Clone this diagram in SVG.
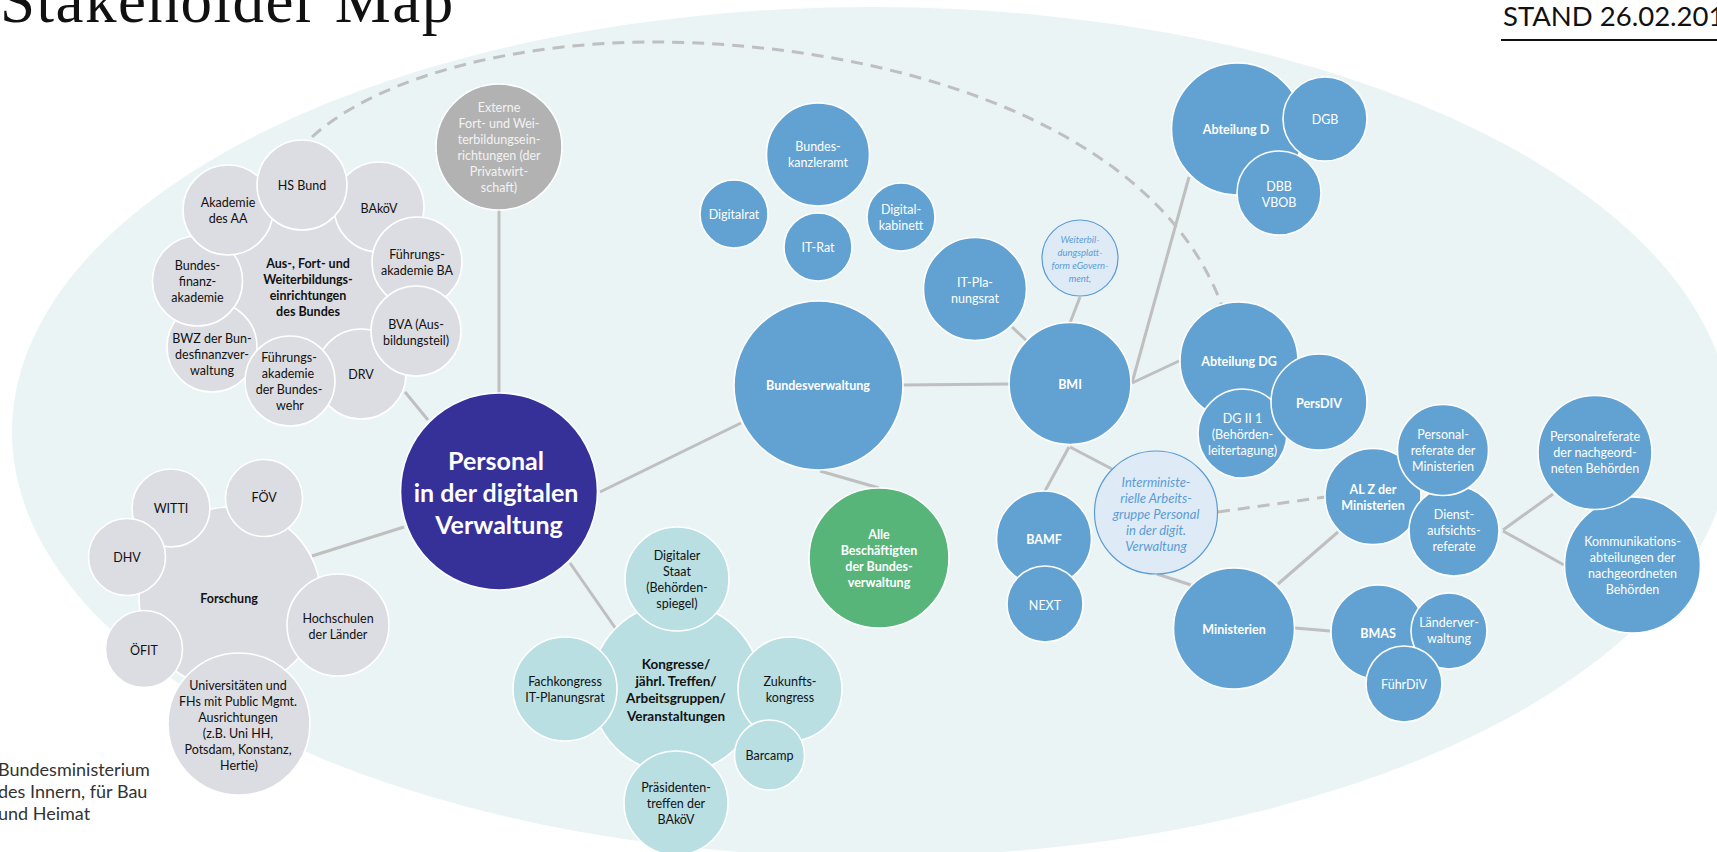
<svg xmlns="http://www.w3.org/2000/svg" width="1717" height="852" viewBox="0 0 1717 852">
<style>
text{font-family:"Lato","Carlito","Open Sans",sans-serif;font-size:12.5px;text-anchor:middle}
.n circle{stroke:#fff;stroke-width:1.6}
.blue circle{fill:#61a2d3}.blue text{fill:#fff}
.gray circle{fill:#dcdde2}.gray text{fill:#111}
.teal circle{fill:#b9dfe3}.teal text{fill:#111}
.light circle{fill:#deebf6;stroke:#5b9bd5;stroke-width:1.2}.light text{fill:#5b9bd5;font-style:italic}
.b{font-weight:700}
#connectors line,#connectors path{stroke:#bfbfbf;stroke-width:3;fill:none}
#connectors .d{stroke-dasharray:12 8}
</style>
<rect width="1717" height="852" fill="#fff"/>
<ellipse id="background" cx="872" cy="432" rx="860" ry="425" fill="#eaf4f5"/>
<text x="0" y="22" style="font-family:'Liberation Serif',serif;font-size:63px;text-anchor:start;letter-spacing:1.5px" fill="#111">Stakeholder Map</text>
<text x="1503" y="26" style="font-size:27.5px;text-anchor:start" fill="#111">STAND 26.02.201</text>
<line x1="1501" y1="40" x2="1717" y2="40" stroke="#111" stroke-width="2"/>
<g id="logo" fill="#333"><text x="-2" y="776" style="font-size:18px;text-anchor:start" fill="#333">Bundesministerium</text><text x="-2" y="798" style="font-size:18px;text-anchor:start" fill="#333">des Innern, für Bau</text><text x="-2" y="820" style="font-size:18px;text-anchor:start" fill="#333">und Heimat</text></g>
<g id="connectors">
<path class="d" d="M312,137C380,75 520,42 653,42C860,42 1150,110 1222,306"/>
<line x1="499" y1="210" x2="499" y2="393"/>
<line x1="405" y1="392" x2="428" y2="420"/>
<line x1="312" y1="556" x2="404" y2="527"/>
<line x1="570" y1="563" x2="616" y2="629"/>
<line x1="600" y1="492" x2="741" y2="423"/>
<line x1="820" y1="471" x2="879" y2="488"/>
<line x1="903" y1="385" x2="1009" y2="384"/>
<line x1="1012" y1="327" x2="1027" y2="341"/>
<line x1="1080" y1="297" x2="1070" y2="323"/>
<line x1="1132" y1="383" x2="1189" y2="177"/>
<line x1="1132" y1="383" x2="1179" y2="361"/>
<line x1="1069" y1="447" x2="1045" y2="491"/>
<line x1="1070" y1="447" x2="1112" y2="469"/>
<line x1="1157" y1="574" x2="1191" y2="585"/>
<line class="d" x1="1218" y1="512" x2="1325" y2="497"/>
<line x1="1278" y1="584" x2="1338" y2="532"/>
<line x1="1295" y1="628" x2="1330" y2="631"/>
<line x1="1503" y1="530" x2="1553" y2="494"/>
<line x1="1503" y1="531" x2="1564" y2="565"/>
</g>
<g id="personal" class="n"><circle cx="499" cy="491.5" r="98.5" fill="#353199"/><text style="font-size:25px;font-weight:700" fill="#fff"><tspan x="496" y="470">Personal</tspan><tspan x="496" y="502">in der digitalen</tspan><tspan x="499" y="534">Verwaltung</tspan></text></g>
<g id="externe" class="n"><circle cx="499" cy="147" r="63" fill="#b2b2b2"/><text fill="#f2f2f2"><tspan x="499" y="112">Externe</tspan><tspan x="499" y="128">Fort- und Wei-</tspan><tspan x="499" y="144">terbildungsein-</tspan><tspan x="499" y="160">richtungen (der</tspan><tspan x="499" y="176">Privatwirt-</tspan><tspan x="499" y="192">schaft)</tspan></text></g>
<g id="ausbildung" class="n gray"><circle cx="308" cy="288" r="100"/><text class="b"><tspan x="308" y="268">Aus-, Fort- und</tspan><tspan x="308" y="284">Weiterbildungs-</tspan><tspan x="308" y="300">einrichtungen</tspan><tspan x="308" y="316">des Bundes</tspan></text></g>
<g id="bwz" class="n gray"><circle cx="212" cy="347" r="45"/><text><tspan x="212" y="343">BWZ der Bun-</tspan><tspan x="212" y="359">desfinanzver-</tspan><tspan x="212" y="375">waltung</tspan></text></g>
<g id="finanzakademie" class="n gray"><circle cx="197.5" cy="281" r="45"/><text><tspan x="197.5" y="270">Bundes-</tspan><tspan x="197.5" y="286">finanz-</tspan><tspan x="197.5" y="302">akademie</tspan></text></g>
<g id="akademie-aa" class="n gray"><circle cx="228" cy="210" r="45"/><text><tspan x="228" y="207">Akademie</tspan><tspan x="228" y="223">des AA</tspan></text></g>
<g id="bakoev" class="n gray"><circle cx="379" cy="207" r="45"/><text><tspan x="379" y="213">BAköV</tspan></text></g>
<g id="hsbund" class="n gray"><circle cx="302" cy="185" r="45"/><text><tspan x="302" y="190">HS Bund</tspan></text></g>
<g id="fuehrung-ba" class="n gray"><circle cx="417" cy="262" r="45"/><text><tspan x="417" y="259">Führungs-</tspan><tspan x="417" y="275">akademie BA</tspan></text></g>
<g id="drv" class="n gray"><circle cx="361" cy="374" r="45"/><text><tspan x="361" y="379">DRV</tspan></text></g>
<g id="bva" class="n gray"><circle cx="416" cy="331" r="45"/><text><tspan x="416" y="329">BVA (Aus-</tspan><tspan x="416" y="345">bildungsteil)</tspan></text></g>
<g id="fuehrung-bw" class="n gray"><circle cx="290" cy="381" r="45"/><text><tspan x="289" y="362">Führungs-</tspan><tspan x="288" y="378">akademie</tspan><tspan x="289" y="394">der Bundes-</tspan><tspan x="290" y="410">wehr</tspan></text></g>
<g id="forschung" class="n gray"><circle cx="230" cy="598" r="91"/><text class="b"><tspan x="229" y="603">Forschung</tspan></text></g>
<g id="witti" class="n gray"><circle cx="171" cy="508" r="39"/><text><tspan x="171" y="513">WITTI</tspan></text></g>
<g id="dhv" class="n gray"><circle cx="127" cy="557" r="38.5"/><text><tspan x="127" y="562">DHV</tspan></text></g>
<g id="foev" class="n gray"><circle cx="264" cy="498" r="38.5"/><text><tspan x="264" y="502">FÖV</tspan></text></g>
<g id="hochschulen" class="n gray"><circle cx="338" cy="625" r="51"/><text><tspan x="338" y="623">Hochschulen</tspan><tspan x="338" y="639">der Länder</tspan></text></g>
<g id="oefit" class="n gray"><circle cx="144" cy="649" r="38.5"/><text><tspan x="144" y="655">ÖFIT</tspan></text></g>
<g id="universitaeten" class="n gray"><circle cx="239" cy="724" r="71"/><text><tspan x="238" y="690">Universitäten und</tspan><tspan x="238" y="706">FHs mit Public Mgmt.</tspan><tspan x="238" y="722">Ausrichtungen</tspan><tspan x="238" y="738">(z.B. Uni HH,</tspan><tspan x="238" y="754">Potsdam, Konstanz,</tspan><tspan x="239" y="770">Hertie)</tspan></text></g>
<g id="kongresse" class="n teal"><circle cx="676" cy="688" r="85"/><text class="b" style="font-size:13.5px"><tspan x="676" y="669">Kongresse/</tspan><tspan x="676" y="686">jährl. Treffen/</tspan><tspan x="676" y="703">Arbeitsgruppen/</tspan><tspan x="676" y="721">Veranstaltungen</tspan></text></g>
<g id="digitaler-staat" class="n teal"><circle cx="677" cy="579" r="52"/><text><tspan x="677" y="560">Digitaler</tspan><tspan x="677" y="576">Staat</tspan><tspan x="677" y="592">(Behörden-</tspan><tspan x="677" y="608">spiegel)</tspan></text></g>
<g id="fachkongress" class="n teal"><circle cx="565" cy="689" r="52"/><text><tspan x="565" y="686">Fachkongress</tspan><tspan x="565" y="702">IT-Planungsrat</tspan></text></g>
<g id="zukunft" class="n teal"><circle cx="790" cy="689" r="52"/><text><tspan x="790" y="686">Zukunfts-</tspan><tspan x="790" y="702">kongress</tspan></text></g>
<g id="barcamp" class="n teal"><circle cx="769.5" cy="755" r="35"/><text><tspan x="769.5" y="760">Barcamp</tspan></text></g>
<g id="praesidenten" class="n teal"><circle cx="676" cy="803" r="52"/><text><tspan x="676" y="792">Präsidenten-</tspan><tspan x="676" y="808">treffen der</tspan><tspan x="676" y="824">BAköV</tspan></text></g>
<g id="bundesverwaltung" class="n blue"><circle cx="818.5" cy="385.5" r="84.5"/><text class="b"><tspan x="818" y="390">Bundesverwaltung</tspan></text></g>
<g id="kanzleramt" class="n blue"><circle cx="818" cy="154.5" r="51.5"/><text><tspan x="818" y="151">Bundes-</tspan><tspan x="818" y="167">kanzleramt</tspan></text></g>
<g id="digitalrat" class="n blue"><circle cx="734" cy="214" r="34"/><text><tspan x="734" y="219">Digitalrat</tspan></text></g>
<g id="itrat" class="n blue"><circle cx="818" cy="247" r="34"/><text><tspan x="818" y="252">IT-Rat</tspan></text></g>
<g id="kabinett" class="n blue"><circle cx="901" cy="217" r="34"/><text><tspan x="901" y="214">Digital-</tspan><tspan x="901" y="230">kabinett</tspan></text></g>
<g id="planungsrat" class="n blue"><circle cx="975" cy="289" r="51.5"/><text><tspan x="975" y="287">IT-Pla-</tspan><tspan x="975" y="303">nungsrat</tspan></text></g>
<g id="plattform" class="n light"><circle cx="1080" cy="258" r="38"/><text style="font-size:9.5px"><tspan x="1080" y="243">Weiterbil-</tspan><tspan x="1080" y="256">dungsplatt-</tspan><tspan x="1080" y="269">form eGovern-</tspan><tspan x="1080" y="282">ment,</tspan></text></g>
<g id="bmi" class="n blue"><circle cx="1070" cy="383.5" r="61"/><text class="b"><tspan x="1070" y="389">BMI</tspan></text></g>
<g id="abt-d" class="n blue"><circle cx="1237.5" cy="129" r="66"/><text class="b"><tspan x="1236" y="134">Abteilung D</tspan></text></g>
<g id="dgb" class="n blue"><circle cx="1325" cy="119" r="42"/><text><tspan x="1325" y="124">DGB</tspan></text></g>
<g id="dbb" class="n blue"><circle cx="1279" cy="193" r="42"/><text><tspan x="1279" y="191">DBB</tspan><tspan x="1279" y="207">VBOB</tspan></text></g>
<g id="abt-dg" class="n blue"><circle cx="1239" cy="361" r="59"/><text class="b"><tspan x="1239" y="366">Abteilung DG</tspan></text></g>
<g id="dg2" class="n blue"><circle cx="1242.5" cy="433.5" r="44.5"/><text><tspan x="1242.5" y="423">DG II 1</tspan><tspan x="1242.5" y="439">(Behörden-</tspan><tspan x="1242.5" y="455">leitertagung)</tspan></text></g>
<g id="persdiv" class="n blue"><circle cx="1319" cy="402" r="48"/><text class="b"><tspan x="1319" y="408">PersDIV</tspan></text></g>
<g id="alz" class="n blue"><circle cx="1373" cy="496.5" r="48"/><text class="b"><tspan x="1373" y="494">AL Z der</tspan><tspan x="1373" y="510">Ministerien</tspan></text></g>
<g id="dienst" class="n blue"><circle cx="1454" cy="531" r="45"/><text><tspan x="1454" y="519">Dienst-</tspan><tspan x="1454" y="535">aufsichts-</tspan><tspan x="1454" y="551">referate</tspan></text></g>
<g id="personalreferate" class="n blue"><circle cx="1443" cy="450" r="45.5"/><text><tspan x="1443" y="439">Personal-</tspan><tspan x="1443" y="455">referate der</tspan><tspan x="1443" y="471">Ministerien</tspan></text></g>
<g id="kommunikation" class="n blue"><circle cx="1632.5" cy="565" r="68"/><text><tspan x="1632.5" y="546">Kommunikations-</tspan><tspan x="1632.5" y="562">abteilungen der</tspan><tspan x="1632.5" y="578">nachgeordneten</tspan><tspan x="1632.5" y="594">Behörden</tspan></text></g>
<g id="personal-nachgeordnet" class="n blue"><circle cx="1595" cy="452.5" r="57"/><text><tspan x="1595" y="441">Personalreferate</tspan><tspan x="1595" y="457">der nachgeord-</tspan><tspan x="1595" y="473">neten Behörden</tspan></text></g>
<g id="interministeriell" class="n light"><circle cx="1156" cy="512.5" r="61.5"/><text style="font-size:13px"><tspan x="1156" y="487">Interministe-</tspan><tspan x="1156" y="503">rielle Arbeits-</tspan><tspan x="1156" y="519">gruppe Personal</tspan><tspan x="1156" y="535">in der digit.</tspan><tspan x="1156" y="551">Verwaltung</tspan></text></g>
<g id="bamf" class="n blue"><circle cx="1044" cy="538.5" r="47.5"/><text class="b"><tspan x="1044" y="544">BAMF</tspan></text></g>
<g id="next" class="n blue"><circle cx="1045" cy="604" r="38"/><text><tspan x="1045" y="610">NEXT</tspan></text></g>
<g id="ministerien" class="n blue"><circle cx="1234" cy="628.5" r="60.5"/><text class="b"><tspan x="1234" y="634">Ministerien</tspan></text></g>
<g id="bmas" class="n blue"><circle cx="1378" cy="632" r="47"/><text class="b"><tspan x="1378" y="638">BMAS</tspan></text></g>
<g id="laender" class="n blue"><circle cx="1449" cy="631" r="38"/><text><tspan x="1449" y="627">Länderver-</tspan><tspan x="1449" y="643">waltung</tspan></text></g>
<g id="fuehrdiv" class="n blue"><circle cx="1404" cy="684" r="38"/><text><tspan x="1404" y="689">FührDiV</tspan></text></g>
<g id="alle" class="n"><circle cx="879" cy="558" r="70" fill="#57b57a"/><text class="b" fill="#fff"><tspan x="879" y="539">Alle</tspan><tspan x="879" y="555">Beschäftigten</tspan><tspan x="879" y="571">der Bundes-</tspan><tspan x="879" y="587">verwaltung</tspan></text></g>
</svg>
